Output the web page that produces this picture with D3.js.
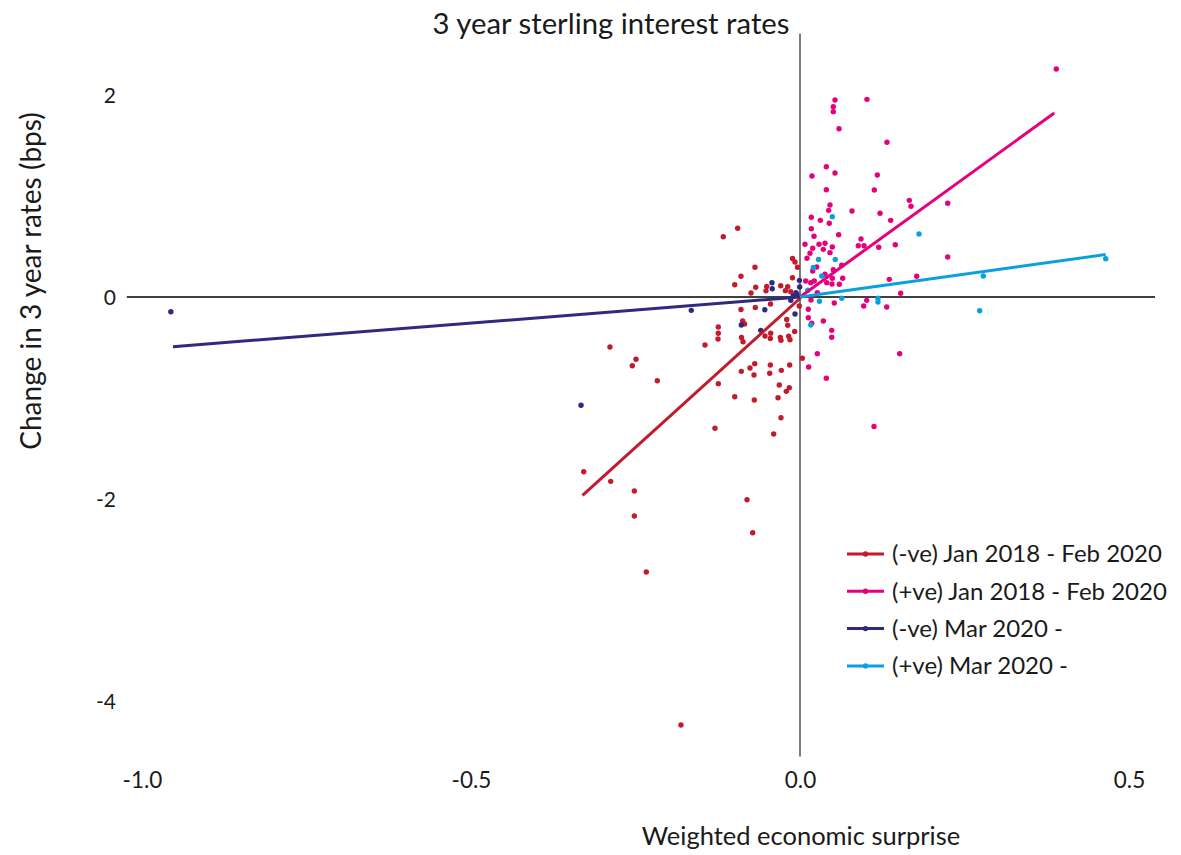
<!DOCTYPE html>
<html>
<head>
<meta charset="utf-8">
<script src="https://cdn.jsdelivr.net/npm/d3@7"></script>
<style>
  html, body { margin: 0; padding: 0; background: #fff; }
  svg { display: block; }
  text { font-family: Lato, "Open Sans", sans-serif; fill: #1a1a1a; }
</style>
</head>
<body>
<svg id="chart" width="1181" height="855"></svg>
<script>
// ---------------- DATA ----------------
const chartTitle = "3 year sterling interest rates";
const xAxisTitle = "Weighted economic surprise";
const yAxisTitle = "Change in 3 year rates (bps)";
const xTickValues = [-1.0, -0.5, 0.0, 0.5];
const yTickValues = [2, 0, -2, -4];
const seriesNames = ["(-ve) Jan 2018 - Feb 2020", "(+ve) Jan 2018 - Feb 2020", "(-ve) Mar 2020 -", "(+ve) Mar 2020 -"];
const seriesColors = ["#c11b2c", "#e5007d", "#2f2a80", "#0aa0df"];

// (-ve) Jan 2018 - Feb 2020 : [surprise, change]
const negPre = [
  [-0.0947, 0.680], [-0.1166, 0.597], [-0.0684, 0.294], [-0.0897, 0.205], [-0.0992, 0.122],
  [-0.0114, 0.381], [-0.0076, 0.347], [-0.0038, 0.295], [-0.0114, 0.191], [-0.0673, 0.097],
  [-0.0506, 0.104], [-0.0517, 0.061], [-0.0745, 0.040], [-0.0293, 0.111], [-0.0187, 0.101],
  [-0.0223, 0.063], [-0.0140, 0.052], [-0.0448, -0.069], [-0.0011, -0.089], [-0.0897, -0.124],
  [-0.0679, -0.104], [-0.0871, -0.238], [-0.0843, -0.267], [-0.0202, -0.223], [-0.0187, -0.279],
  [-0.1242, -0.297], [-0.1242, -0.359], [-0.1246, -0.416], [-0.0532, -0.386], [-0.0445, -0.359],
  [-0.0451, -0.411], [-0.0081, -0.342], [-0.0889, -0.401], [-0.0866, -0.443], [-0.0299, -0.401],
  [-0.0289, -0.429], [-0.0172, -0.389], [-0.0152, -0.423], [-0.1444, -0.475], [-0.2888, -0.495],
  [-0.2492, -0.617], [-0.2549, -0.680], [-0.2169, -0.829], [0.0035, -0.607], [-0.0688, -0.660],
  [-0.0760, -0.703], [-0.0451, -0.673], [-0.0460, -0.755], [-0.0157, -0.673], [-0.0284, -0.726],
  [-0.0892, -0.736], [-0.0699, -0.772], [-0.1242, -0.858], [-0.0315, -0.871], [-0.0163, -0.898],
  [-0.0208, -0.934], [-0.0992, -0.987], [-0.0695, -1.020], [-0.0334, -0.997], [-0.0289, -1.195],
  [-0.1292, -1.300], [-0.0400, -1.356], [-0.3287, -1.730], [-0.2877, -1.825], [-0.2518, -1.921],
  [-0.2518, -2.168], [-0.0805, -2.007], [-0.0719, -2.334], [-0.2336, -2.723], [-0.1809, -4.238]
];

// (+ve) Jan 2018 - Feb 2020
const posPre = [
  [0.0532, 1.950], [0.1018, 1.957], [0.0506, 1.884], [0.0506, 1.835], [0.0593, 1.666],
  [0.1322, 1.532], [0.0400, 1.290], [0.0532, 1.228], [0.0182, 1.198], [0.1175, 1.208],
  [0.0400, 1.062], [0.1129, 1.059], [0.1661, 0.957], [0.1687, 0.898], [0.2245, 0.928],
  [0.0456, 0.911], [0.0436, 0.858], [0.0790, 0.851], [0.0172, 0.789], [0.0309, 0.759],
  [0.0445, 0.730], [0.1216, 0.829], [0.1378, 0.759], [0.0172, 0.676], [0.0213, 0.601],
  [0.0588, 0.617], [0.0927, 0.574], [0.0886, 0.508], [0.0973, 0.508], [0.0076, 0.522],
  [0.0289, 0.522], [0.0380, 0.532], [0.0354, 0.472], [0.0491, 0.495], [0.0456, 0.439],
  [0.0152, 0.433], [0.0193, 0.482], [0.0106, 0.383], [0.1196, 0.492], [0.1448, 0.518],
  [0.2245, 0.396], [0.3895, 2.257], [0.0254, 0.297], [0.0193, 0.257], [0.0506, 0.270],
  [0.0634, 0.314], [0.0380, 0.225], [0.0491, 0.185], [0.0406, 0.142], [0.0486, 0.129],
  [0.0649, 0.185], [0.0597, 0.126], [0.0087, 0.158], [0.0163, 0.142], [0.0217, 0.158],
  [0.0263, 0.043], [0.1357, 0.175], [0.1774, 0.205], [0.1530, 0.037], [0.0167, -0.030],
  [0.0521, -0.059], [0.1014, -0.033], [0.0968, -0.089], [0.1318, -0.099], [0.0126, -0.122],
  [0.0126, -0.205], [0.0178, -0.260], [0.0354, -0.238], [0.0482, -0.330], [0.0482, -0.399],
  [0.0263, -0.561], [0.1515, -0.561], [0.0132, -0.693], [0.0400, -0.805], [0.1125, -1.282]
];

// (-ve) Mar 2020 -
const negPost = [
  [-0.9562, -0.146], [-0.1652, -0.132], [-0.3328, -1.072], [-0.0426, 0.141], [-0.0422, 0.081],
  [-0.0535, -0.126], [-0.0892, -0.277], [-0.0596, -0.330], [-0.0076, -0.168], [-0.0008, 0.165],
  [-0.0005, 0.099], [-0.0050, 0.027], [-0.0102, 0.010], [-0.0140, -0.033], [-0.0061, 0.043]
];

// (+ve) Mar 2020 -
const posPost = [
  [0.0491, 0.795], [0.1809, 0.624], [0.0281, 0.371], [0.0536, 0.371], [0.0202, 0.292],
  [0.0330, 0.208], [0.0119, 0.067], [0.0296, -0.042], [0.0634, -0.013], [0.1185, -0.013],
  [0.1185, -0.050], [0.0163, -0.277], [0.2786, 0.208], [0.2731, -0.136], [0.4646, 0.379]
];

// Fitted trend lines (start and end points)
const negPreFit = [[-0.3305, -1.965], [0.0015, -0.005]];
const posPreFit = [[0.0, 0.0], [0.3865, 1.822]];
const negPostFit = [[-0.953, -0.492], [0.0, 0.0]];
const posPostFit = [[0.0, 0.0], [0.4646, 0.420]];

// Extents of the drawn zero lines
const xZeroLineExtent = [-1.023, 0.5395];
const yZeroLineExtent = [2.61, -4.55];

// ---------------- CHART ----------------
const svg = d3.select("#chart");
svg.append("rect").attr("width", 1181).attr("height", 855).attr("fill", "#fff");

const x = d3.scaleLinear().domain([-1, 0.5]).range([142, 1129]);
const y = d3.scaleLinear().domain([2, -4]).range([95, 701]);

// zero lines
svg.append("line")
  .attr("x1", x(xZeroLineExtent[0])).attr("x2", x(xZeroLineExtent[1]))
  .attr("y1", y(0)).attr("y2", y(0))
  .attr("stroke", "#000").attr("stroke-width", 1.3);
svg.append("line")
  .attr("x1", x(0)).attr("x2", x(0))
  .attr("y1", y(yZeroLineExtent[0])).attr("y2", y(yZeroLineExtent[1]))
  .attr("stroke", "#6e6e6e").attr("stroke-width", 1.8);

// axes (labels only, no domain/ticks) - plain hyphen minus like the reference
const xAxis = d3.axisBottom(x).tickValues(xTickValues).tickFormat(d => d.toFixed(1)).tickSize(0).tickPadding(0);
const gx = svg.append("g").attr("transform", "translate(0,780)").call(xAxis);
gx.select(".domain").remove();
gx.selectAll("text").attr("font-family", "Lato, sans-serif").attr("font-size", 22.5).attr("fill", "#1a1a1a")
  .attr("dy", "0.35em").attr("y", 0);

const yAxis = d3.axisLeft(y).tickValues(yTickValues).tickFormat(d => String(d)).tickSize(0).tickPadding(0);
const gy = svg.append("g").attr("transform", "translate(116,0)").call(yAxis);
gy.select(".domain").remove();
gy.selectAll("text").attr("font-family", "'Open Sans', sans-serif").attr("font-size", 21).attr("fill", "#1a1a1a")
  .attr("x", 0).attr("dy", "0.36em");

// titles
svg.append("text").attr("x", 611).attr("y", 24).attr("dy", "0.35em")
  .attr("text-anchor", "middle").attr("font-size", 29.3).text(chartTitle);
svg.append("text").attr("x", 801).attr("y", 836).attr("dy", "0.35em")
  .attr("text-anchor", "middle").attr("font-size", 25.5).text(xAxisTitle);
svg.append("text").attr("transform", "translate(31,281) rotate(-90)").attr("dy", "0.35em")
  .attr("text-anchor", "middle").attr("font-size", 28).text(yAxisTitle);

// series
const allSeries = [
  { name: seriesNames[0], color: seriesColors[0], pts: negPre, fit: negPreFit },
  { name: seriesNames[1], color: seriesColors[1], pts: posPre, fit: posPreFit },
  { name: seriesNames[2], color: seriesColors[2], pts: negPost, fit: negPostFit },
  { name: seriesNames[3], color: seriesColors[3], pts: posPost, fit: posPostFit }
];
const line = d3.line().x(d => x(d[0])).y(d => y(d[1]));

allSeries.forEach(s => {
  svg.append("g").selectAll("circle").data(s.pts).join("circle")
    .attr("cx", d => x(d[0])).attr("cy", d => y(d[1])).attr("r", 2.7)
    .attr("fill", s.color);
});
allSeries.forEach(s => {
  svg.append("path").datum(s.fit).attr("d", line)
    .attr("fill", "none").attr("stroke", s.color).attr("stroke-width", 3);
});

// legend
const legend = svg.append("g").attr("transform", "translate(847,554)");
allSeries.forEach((s, i) => {
  const g = legend.append("g").attr("transform", `translate(0,${i * 37.3})`);
  g.append("line").attr("x1", 0).attr("x2", 37).attr("y1", 0).attr("y2", 0)
    .attr("stroke", s.color).attr("stroke-width", 3);
  g.append("circle").attr("cx", 18.5).attr("cy", 0).attr("r", 2.7).attr("fill", s.color);
  g.append("text").attr("x", 45).attr("y", 0).attr("dy", "0.35em")
    .attr("font-size", 24).text(s.name);
});
</script>
</body>
</html>
